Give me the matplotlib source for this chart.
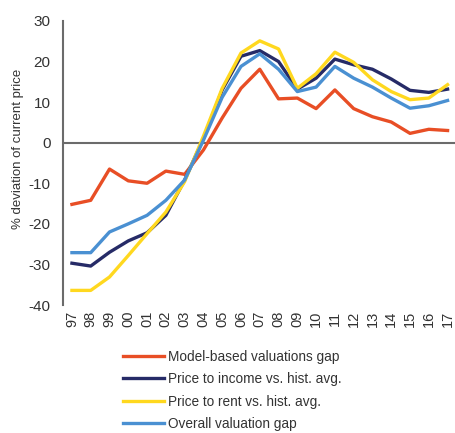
import numpy as np
import matplotlib
matplotlib.use("Agg")
import matplotlib.pyplot as plt

plt.rcParams['font.family'] = ['Liberation Sans', 'DejaVu Sans']
plt.rcParams['axes.unicode_minus'] = False

years = ['97', '98', '99', '00', '01', '02', '03', '04', '05', '06', '07',
         '08', '09', '10', '11', '12', '13', '14', '15', '16', '17']

model_gap = [-15.2, -14.2, -6.5, -9.4, -10.0, -7.0, -7.8, -1.8, 6.1, 13.4, 18.1,
             10.8, 11.0, 8.4, 13.0, 8.4, 6.4, 5.1, 2.3, 3.3, 3.0]
price_income = [-29.7, -30.4, -27.0, -24.2, -22.2, -17.9, -9.2, 1.0, 13.0, 21.3, 22.7,
                20.0, 13.2, 15.9, 20.6, 19.2, 18.1, 15.7, 12.9, 12.4, 13.2]
price_rent = [-36.4, -36.4, -33.1, -27.8, -22.4, -17.1, -9.6, 1.6, 13.4, 22.1, 25.1,
              23.1, 13.4, 17.0, 22.3, 19.8, 15.5, 12.6, 10.6, 11.0, 14.3]
overall_gap = [-27.1, -27.1, -22.0, -20.0, -17.9, -14.2, -9.2, 0.6, 11.2, 18.8, 21.9,
               18.1, 12.6, 13.7, 18.8, 15.9, 13.7, 11.0, 8.5, 9.1, 10.4]

series = [
    ("Model-based valuations gap", model_gap, "#E84E25"),
    ("Price to income vs. hist. avg.", price_income, "#262B67"),
    ("Price to rent vs. hist. avg.", price_rent, "#FFD81F"),
    ("Overall valuation gap", overall_gap, "#4A90D2"),
]

fig = plt.figure(figsize=(4.56, 4.33), dpi=100)
ax = fig.add_axes([0.138, 0.2956, 0.86, 0.656])

x = np.arange(len(years))
ax.axhline(0, color="#6b6b6b", lw=1.5, zorder=1)
for label, vals, col in series:
    ax.plot(x, vals, color=col, lw=2.4, label=label, zorder=2)

ax.set_xlim(-0.48, 20.4)
ax.set_ylim(-40, 30)
ax.set_yticks(range(-40, 31, 10))
ax.set_xticks(x)
ax.set_xticklabels(years, rotation=90)
for s in ["top", "right", "bottom"]:
    ax.spines[s].set_visible(False)
ax.spines["left"].set_color("#6b6b6b")
ax.spines["left"].set_linewidth(1.5)
ax.tick_params(axis="y", length=0, labelsize=11, colors="#333333", pad=9)
ax.tick_params(axis="x", length=0, labelsize=10.5, colors="#333333", pad=4)
ax.set_ylabel("% deviation of current price", fontsize=9.5, color="#333333")
ax.yaxis.set_label_coords(-0.098, 0.549)

fig.legend(loc="upper left", bbox_to_anchor=(0.255, 0.208), frameon=False,
           fontsize=9.8, handlelength=3.0, handletextpad=0.3, labelspacing=0.62,
           borderpad=0, labelcolor="#333333")

fig.savefig("out.png", dpi=100)
